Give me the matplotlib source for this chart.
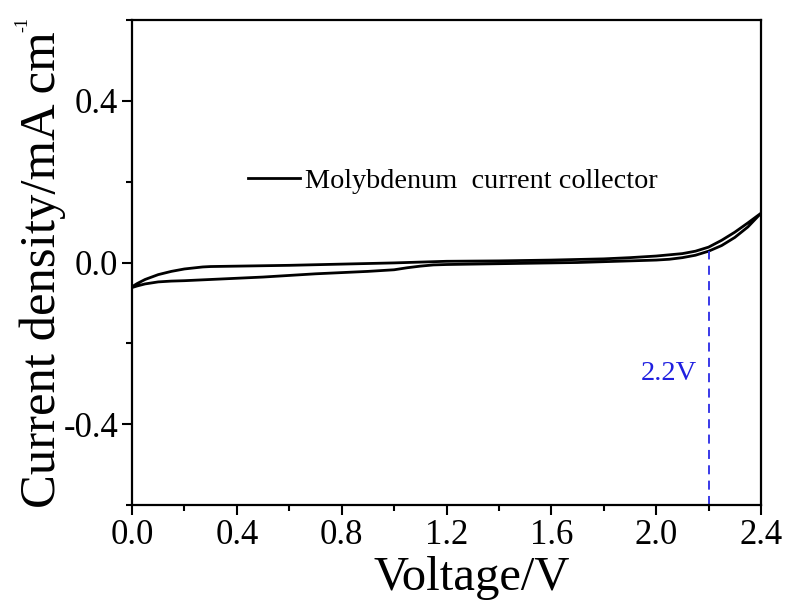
import matplotlib
matplotlib.use("Agg")
import matplotlib.pyplot as plt
from matplotlib.ticker import MultipleLocator, FormatStrFormatter

plt.rcParams['font.family'] = ['Liberation Serif', 'DejaVu Serif']
plt.rcParams['mathtext.fontset'] = 'custom'
plt.rcParams['mathtext.rm'] = 'Liberation Serif'

# Forward (lower) branch
v_fwd = [0.0, 0.02, 0.05, 0.1, 0.15, 0.2, 0.3, 0.4, 0.5, 0.6, 0.7, 0.8, 0.9, 1.0,
         1.05, 1.1, 1.15, 1.2, 1.3, 1.4, 1.5, 1.6, 1.7, 1.8, 1.9, 2.0, 2.05, 2.1,
         2.15, 2.2, 2.25, 2.3, 2.35, 2.4]
j_fwd = [-0.062, -0.058, -0.053, -0.048, -0.046, -0.045, -0.042, -0.039, -0.036,
         -0.032, -0.028, -0.025, -0.022, -0.018, -0.013, -0.009, -0.006, -0.005,
         -0.004, -0.003, -0.002, -0.001, 0.0, 0.002, 0.004, 0.006, 0.008, 0.012,
         0.018, 0.028, 0.042, 0.062, 0.088, 0.122]
# Reverse (upper) branch
v_rev = [2.4, 2.35, 2.3, 2.25, 2.2, 2.15, 2.1, 2.0, 1.9, 1.8, 1.6, 1.4, 1.2, 1.1,
         1.0, 0.8, 0.6, 0.4, 0.3, 0.27, 0.2, 0.15, 0.1, 0.05, 0.02, 0.0]
j_rev = [0.126, 0.098, 0.075, 0.055, 0.038, 0.028, 0.022, 0.016, 0.012, 0.009,
         0.006, 0.004, 0.003, 0.001, -0.001, -0.004, -0.007, -0.009, -0.010,
         -0.011, -0.016, -0.022, -0.030, -0.042, -0.052, -0.060]

marker_v = 2.2
marker_j = 0.028
marker_label = "2.2V"
legend_label = "Molybdenum  current collector"

fig = plt.figure(figsize=(7.89, 6.09), dpi=100)
ax = fig.add_axes([132/789, 1-505/609, 629/789, 485/609])

v_all = v_fwd + v_rev[1:]
j_all = j_fwd + j_rev[1:]
ax.plot(v_all, j_all, color='black', lw=2.0, label=legend_label, solid_joinstyle='round')

ax.plot([marker_v, marker_v], [-0.6, marker_j], color='#2a2ae6', lw=1.3, ls=(0, (5, 3.5)))
ax.text(2.155, -0.275, marker_label, color='#2020e0', fontsize=20.5, ha='right', va='center')

ax.set_xlim(0, 2.4)
ax.set_ylim(-0.6, 0.6)
ax.xaxis.set_major_locator(MultipleLocator(0.4))
ax.xaxis.set_minor_locator(MultipleLocator(0.2))
ax.yaxis.set_major_locator(MultipleLocator(0.4))
ax.yaxis.set_minor_locator(MultipleLocator(0.2))
ax.xaxis.set_major_formatter(FormatStrFormatter('%.1f'))
ax.yaxis.set_major_formatter(FormatStrFormatter('%.1f'))

for s in ax.spines.values():
    s.set_linewidth(1.6)
ax.tick_params(which='both', direction='out', top=False, right=False, width=1.5)
ax.tick_params(which='major', length=7, labelsize=25, pad=3)
ax.tick_params(which='minor', length=4.5)

ax.set_xlabel('Voltage/V', fontsize=35)
ax.set_ylabel('Current density/mA cm', fontsize=36.5)
ax.xaxis.set_label_coords(0.54, -0.105)
ax.yaxis.set_label_coords(-0.105, 0.485)
fig.text(23/789, 1-24/609, '-1', rotation=90, fontsize=13, ha='center', va='center')

leg = ax.legend(loc='center left', bbox_to_anchor=((248-132)/629, (505-181)/485),
                frameon=False, fontsize=20.3, handlelength=1.85, handletextpad=0.18,
                borderpad=0, borderaxespad=0)

fig.savefig('out.png', dpi=100)
